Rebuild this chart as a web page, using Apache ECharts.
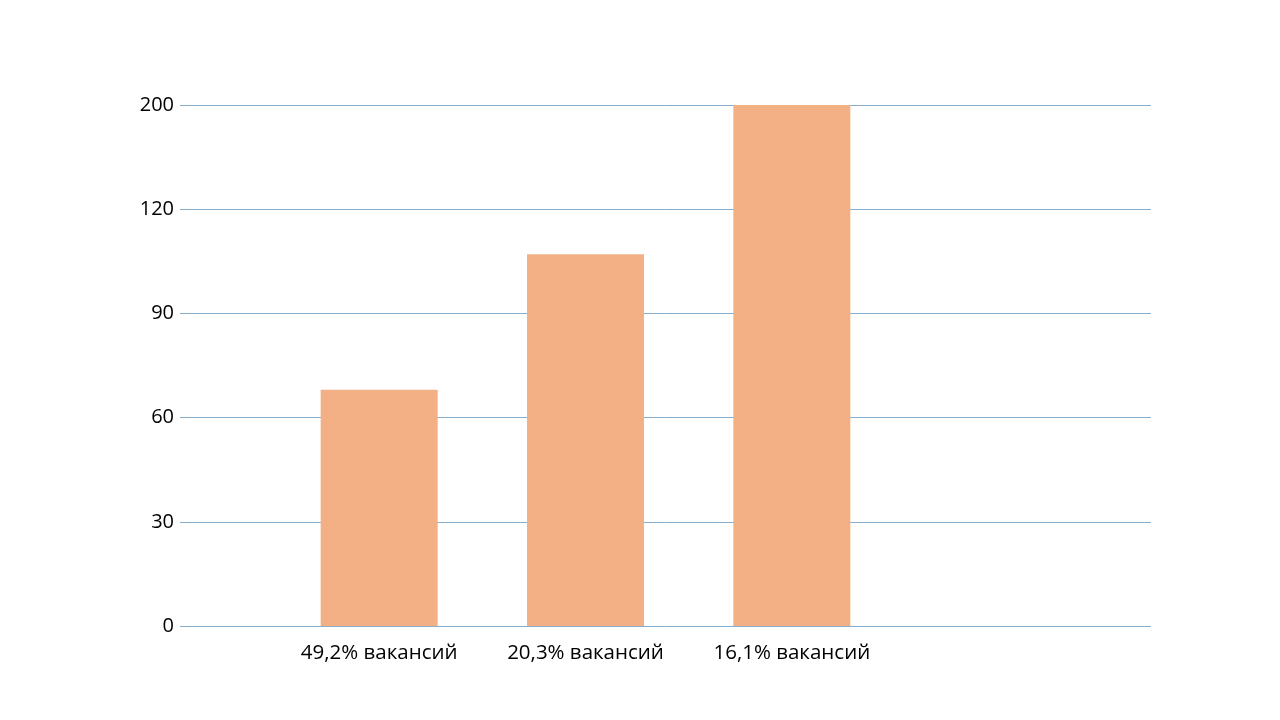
<!DOCTYPE html>
<html>
<head>
<meta charset="utf-8">
<script src="https://cdn.jsdelivr.net/npm/echarts@6/dist/echarts.min.js"></script>
<style>html,body{margin:0;padding:0;background:#fff;}#c{width:1280px;height:720px;}</style>
</head>
<body>
<div id="c"></div>
<script>
// Data
const categories = ['49,2% вакансий', '20,3% вакансий', '16,1% вакансий'];
const values = [68, 107, 200];
// Tick labels of the (evenly spaced, non-linear) value axis
const yTicks = [0, 30, 60, 90, 120, 200];

// Piecewise scale: a value is placed between the evenly spaced tick labels
function toTickPos(v) {
  for (let i = 1; i < yTicks.length; i++) {
    if (v <= yTicks[i]) {
      return (i - 1) + (v - yTicks[i - 1]) / (yTicks[i] - yTicks[i - 1]);
    }
  }
  return yTicks.length - 1;
}

const FONT = '"Open Sans", "Noto Sans", sans-serif';
const lineColor = '#86afcf';
const barColor = '#f2b084';
const gridTop = 105, gridBottom = 720 - 626;

const chart = echarts.init(document.getElementById('c'), null, {renderer: 'canvas'});
chart.setOption({
  backgroundColor: '#ffffff',
  animation: false,
  grid: [
    {left: 180, right: 129, top: gridTop, bottom: gridBottom, containLabel: false},
    {left: 276, right: 385, top: gridTop, bottom: gridBottom, containLabel: false}
  ],
  xAxis: [
    {gridIndex: 0, type: 'value', min: 0, max: 1, show: false},
    {
      gridIndex: 1, type: 'category', data: categories,
      axisLine: {show: false}, axisTick: {show: false}, splitLine: {show: false},
      axisLabel: {color: '#000', fontFamily: FONT, fontSize: 20.5, margin: 17}
    }
  ],
  yAxis: [
    {
      gridIndex: 0, type: 'value', min: 0, max: yTicks.length - 1, interval: 1,
      axisLine: {show: false}, axisTick: {show: false},
      axisLabel: {
        color: '#000', fontFamily: FONT, fontSize: 20, margin: 6,
        formatter: function (v) { return String(yTicks[Math.round(v)]); }
      },
      splitLine: {show: true, lineStyle: {color: lineColor, width: 1}}
    },
    {
      gridIndex: 1, type: 'value', min: 0, max: yTicks.length - 1, interval: 1,
      show: false, splitLine: {show: false}
    }
  ],
  series: [{
    type: 'bar',
    xAxisIndex: 1, yAxisIndex: 1,
    data: values.map(toTickPos),
    barWidth: 117,
    itemStyle: {color: barColor},
    z: 3
  }]
});
</script>
</body>
</html>
